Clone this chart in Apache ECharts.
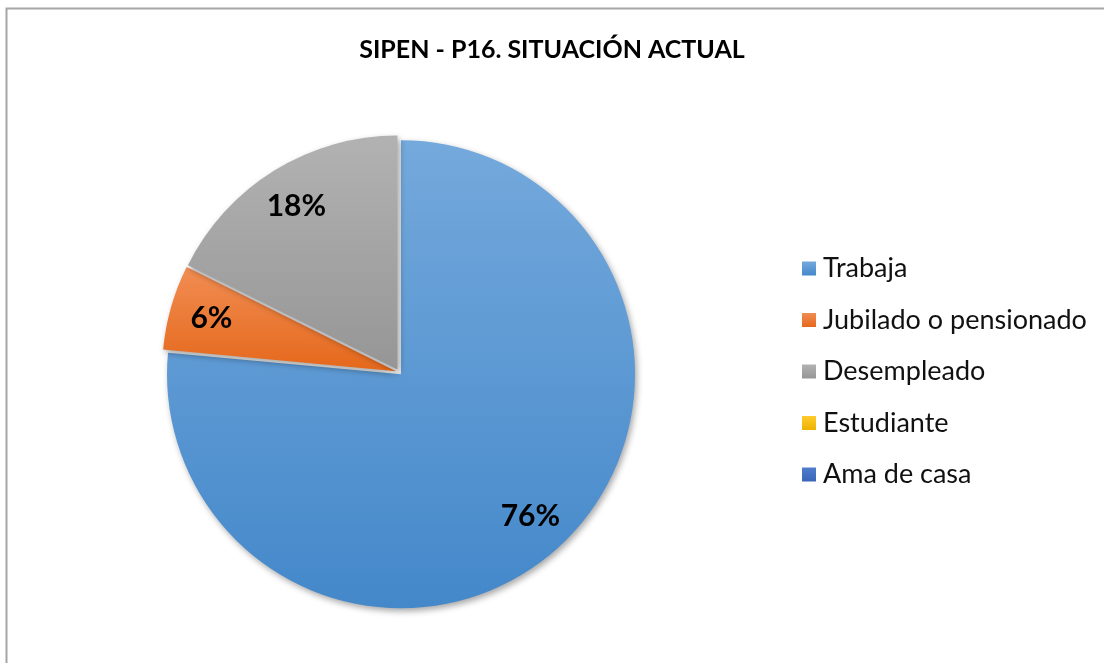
<!DOCTYPE html>
<html><head><meta charset="utf-8">
<script src="https://cdn.jsdelivr.net/npm/echarts@6/dist/echarts.min.js"></script>
<style>html,body{margin:0;padding:0;background:#fff}#c{width:1104px;height:663px}</style>
</head><body><div id="c"></div>
<script>
const titleText = 'SIPEN - P16. SITUACIÓN ACTUAL';
const categories = ['Trabaja', 'Jubilado o pensionado', 'Desempleado', 'Estudiante', 'Ama de casa'];
const values = [26, 2, 6, 0, 0];
const colorsTop = ['#74A9DC', '#F18D53', '#B2B2B2', '#FFCA2E', '#4F7DCB'];
const colorsBottom = ['#4488CA', '#E5681B', '#969696', '#EDB300', '#3A66B8'];

function grad(i){
  return {type:'linear',x:0,y:0,x2:0,y2:1,colorStops:[{offset:0,color:colorsTop[i]},{offset:1,color:colorsBottom[i]}]};
}
const FONT = 'Lato';
const chart = echarts.init(document.getElementById('c'));
const pieData = categories.map((n,i)=>({name:n,value:values[i],selected:true,itemStyle:{color:grad(i)}}));
const labelData = categories.map((n,i)=>({name:n,value:values[i]}));
chart.setOption({
  animation:false,
  title:{text:titleText,left:'center',top:37,padding:0,textStyle:{fontFamily:FONT,fontWeight:'bold',fontSize:25,color:'#000'}},
  graphic:[{type:'rect',shape:{x:6.5,y:8.5,width:1200,height:800},style:{fill:'none',stroke:'#a6a6a6',lineWidth:2},silent:true,z:-1}],
  legend:{orient:'vertical',left:802,top:255,padding:0,itemWidth:14,itemHeight:14,itemGap:24.5,icon:'rect',
    data:categories,selectedMode:false,
    textStyle:{fontFamily:FONT,fontSize:27,color:'#111',lineHeight:27,padding:[0,0,0,2]}},
  series:[
    {type:'pie',center:[399,372],radius:[0,234],startAngle:90,clockwise:true,
     selectedMode:'multiple',selectedOffset:3,percentPrecision:0,
     label:{show:false},labelLine:{show:false},
     itemStyle:{shadowBlur:6,shadowOffsetX:2,shadowOffsetY:3,shadowColor:'rgba(0,0,0,0.35)'},
     emphasis:{disabled:true},
     data:pieData},
    {type:'pie',center:[399,372],radius:[0,384],startAngle:90,clockwise:true,silent:true,
     percentPrecision:0,legendHoverLink:false,
     itemStyle:{color:'rgba(0,0,0,0)'},labelLine:{show:false},emphasis:{disabled:true},
     label:{show:true,position:'inside',fontFamily:FONT,fontWeight:'bold',fontSize:30,color:'#000',
       formatter:p=>p.value>0?p.percent+'%':''},
     data:labelData}
  ]
});
</script></body></html>
